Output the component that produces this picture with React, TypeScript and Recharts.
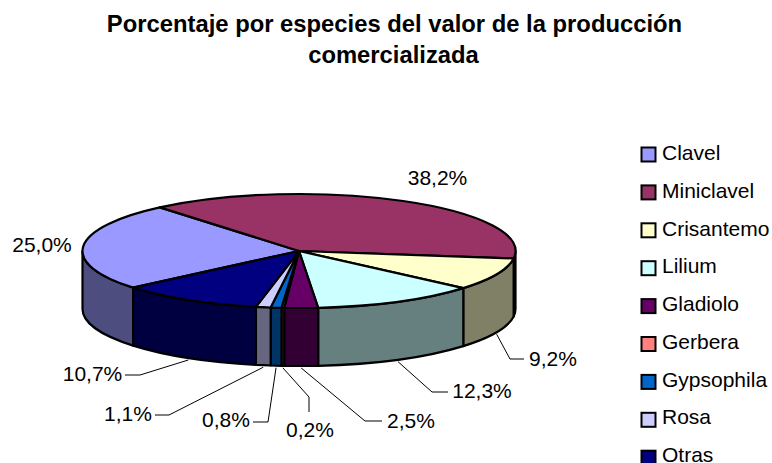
import React from "react";
import { PieChart, Pie, Legend } from "recharts";

const categories = ["Clavel", "Miniclavel", "Crisantemo", "Lilium", "Gladiolo", "Gerbera", "Gypsophila", "Rosa", "Otras"];
const shares = [25.0, 38.2, 9.2, 12.3, 2.5, 0.2, 0.8, 1.1, 10.7];
const topColors = ["#9999FF", "#993366", "#FFFFCC", "#CCFFFF", "#660066", "#FF8080", "#0066CC", "#CCCCFF", "#000080"];
const wallColors = ["#4D4D80", "#4D1A33", "#808066", "#668080", "#330033", "#804040", "#003366", "#666680", "#000040"];
const percentLabels = ["25,0%", "38,2%", "9,2%", "12,3%", "2,5%", "0,2%", "0,8%", "1,1%", "10,7%"];

const FONT = "'Liberation Sans', Arial, sans-serif";
const CX = 299;
const CY = 251;
const RX = 216.5;
const RY = 57;
const DEPTH = 58;

// Label text centre and leader path for each slice
const labelLayout = [
  { text: [42, 252], line: null },
  { text: [437.5, 185], line: null },
  { text: [553, 366], line: [[510, 359], [524, 359]] },
  { text: [482, 398], line: [[432, 392], [448, 392]] },
  { text: [411, 428], line: [[365, 421], [382, 421]] },
  { text: [310, 437], line: [[309, 397], [309, 412]] },
  { text: [226, 427], line: [[268, 422], [253, 422]] },
  { text: [128, 421], line: [[169, 415], [155, 415]] },
  { text: [92.5, 381], line: [[140, 375], [125, 375]] },
];

const chartData = categories.map((name, i) => ({ name, value: shares[i], fill: topColors[i], wall: wallColors[i], index: i }));

const pt = (theta: number, rx: number, ry: number, cx: number, cy: number) => {
  const r = (theta * Math.PI) / 180;
  return [cx + rx * Math.sin(r), cy - ry * Math.cos(r)];
};

function Slice3D(props: any) {
  const { cx, cy, outerRadius, startAngle, endAngle, fill, payload } = props;
  const ry = (outerRadius * RY) / RX;
  const t0 = 90 - startAngle;
  const t1 = 90 - endAngle;
  const [x0, y0] = pt(t0, outerRadius, ry, cx, cy);
  const [x1, y1] = pt(t1, outerRadius, ry, cx, cy);
  const large = t1 - t0 > 180 ? 1 : 0;
  const top = `M${cx},${cy} L${x0},${y0} A${outerRadius},${ry} 0 ${large} 1 ${x1},${y1} Z`;
  const walls: string[] = [];
  for (let k = -2; k <= 2; k++) {
    const a = Math.max(t0, 90 + 360 * k);
    const b = Math.min(t1, 270 + 360 * k);
    if (b > a) {
      const [ax, ay] = pt(a, outerRadius, ry, cx, cy);
      const [bx, by] = pt(b, outerRadius, ry, cx, cy);
      walls.push(`M${ax},${ay} A${outerRadius},${ry} 0 0 1 ${bx},${by} L${bx},${by + DEPTH} A${outerRadius},${ry} 0 0 0 ${ax},${ay + DEPTH} Z`);
    }
  }
  const wall = payload?.wall ?? props.wall;
  return (
    <g>
      {walls.map((d, i) => (
        <path key={i} d={d} fill={wall} stroke="#000" strokeWidth={2.2} strokeLinejoin="round" />
      ))}
      <path d={top} fill={fill} stroke="#000" strokeWidth={2.2} strokeLinejoin="round" />
    </g>
  );
}

function SliceLabel(props: any) {
  const { cx, cy, outerRadius, midAngle, index } = props;
  const ry = (outerRadius * RY) / RX;
  const layout = labelLayout[index];
  const [ax, ay] = pt(90 - midAngle, outerRadius, ry, cx, cy);
  const points = layout.line ? [[ax, ay + DEPTH + 2], ...layout.line].map((p) => p.join(",")).join(" ") : null;
  return (
    <g>
      {points && <polyline points={points} fill="none" stroke="#000" strokeWidth={1} />}
      <text x={layout.text[0]} y={layout.text[1]} textAnchor="middle" fontFamily={FONT} fontSize={21} fill="#000">
        {percentLabels[index]}
      </text>
    </g>
  );
}

function LegendBox(props: any) {
  const { payload } = props;
  const rows = categories.map((name) => (payload || []).find((e: any) => e.value === name)).filter(Boolean);
  return (
    <svg width={772} height={463} style={{ display: "block" }}>
      {rows.map((e: any, i: number) => (
        <g key={e.value}>
          <rect x={641.5} y={147.5 + 37.9 * i} width={14} height={14} fill={e.color} stroke="#000" strokeWidth={2} />
          <text x={662} y={160 + 37.75 * i} fontFamily={FONT} fontSize={21} fill="#000">
            {e.value}
          </text>
        </g>
      ))}
    </svg>
  );
}

export default function App() {
  return (
    <div style={{ position: "absolute", left: 0, top: 0, width: 772, height: 463, overflow: "hidden", background: "#fff" }}>
      <PieChart width={772} height={463} margin={{ top: 0, right: 0, bottom: 0, left: 0 }}>
        <text x={394.5} y={32} textAnchor="middle" fontFamily={FONT} fontWeight="bold" fontSize={23.8} fill="#000">
          Porcentaje por especies del valor de la producción
        </text>
        <text x={393.5} y={63} textAnchor="middle" fontFamily={FONT} fontWeight="bold" fontSize={23.8} fill="#000">
          comercializada
        </text>
        <Pie
          data={chartData}
          dataKey="value"
          nameKey="name"
          cx={CX}
          cy={CY}
          innerRadius={0}
          outerRadius={RX}
          startAngle={-140}
          endAngle={-500}
          stroke="#000"
          isAnimationActive={false}
          shape={Slice3D}
          label={SliceLabel}
          labelLine={false}
        />
        <Legend
          content={LegendBox}
          layout="vertical"
          wrapperStyle={{ position: "absolute", left: 0, top: 0, width: 772, height: 463, bottom: "auto", right: "auto" }}
        />
      </PieChart>
    </div>
  );
}
